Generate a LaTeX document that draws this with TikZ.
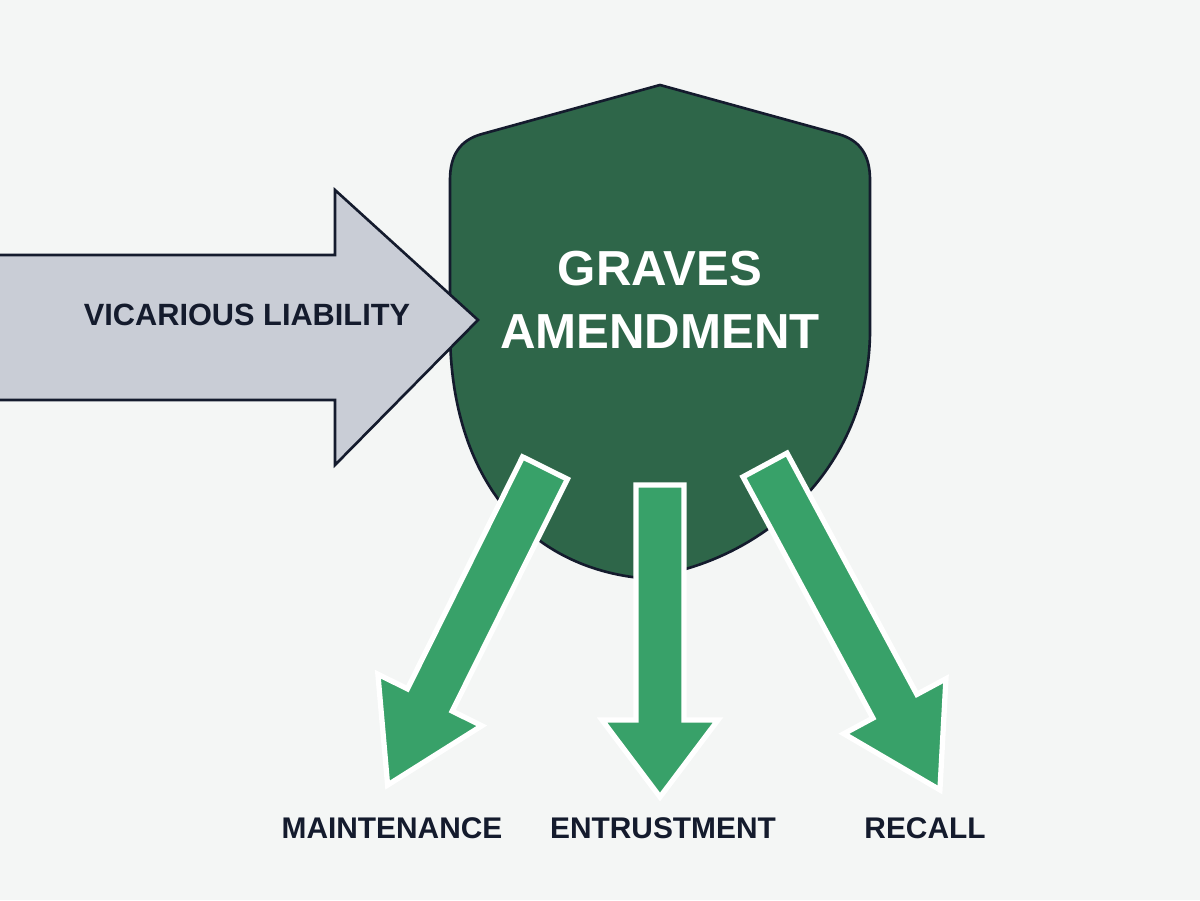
\documentclass[tikz,border=0pt]{standalone}
\usepackage{fontspec}
\setmainfont{Liberation Sans}
\usetikzlibrary{positioning,calc}
\definecolor{bgcol}{HTML}{F4F6F5}
\definecolor{navy}{HTML}{141B2D}
\definecolor{shieldgreen}{HTML}{2E6649}
\definecolor{leafgreen}{HTML}{38A169}
\definecolor{arrowgrey}{HTML}{C9CDD6}
\tikzset{
  lbl/.style={font=\bfseries\fontsize{17}{20}\selectfont, text=navy},
  garrow/.style={fill=leafgreen, draw=white, line width=3pt, line join=miter},
}
% start, angle, length, shaft half width, head half width, head length
\newcommand{\gArrow}[6]{%
  \begin{scope}[shift={#1}, rotate=#2]
    \draw[garrow] (0,#4) -- ({#3-#6},#4) -- ({#3-#6},#5) -- (#3,0) -- ({#3-#6},-#5) -- ({#3-#6},-#4) -- (0,-#4) -- cycle;
  \end{scope}}
\begin{document}
\begin{tikzpicture}[x=0.02cm, y=0.02cm]
\fill[bgcol] (0,0) rectangle (1200,900);
\useasboundingbox (0,0) rectangle (1200,900);
% shield
\draw[fill=shieldgreen, draw=navy, line width=1.5pt]
  (660,815) -- (838,766) .. controls (860,760) and (870,745) .. (870,720)
  -- (870,570) .. controls (870,430) and (760,335) .. (640,322)
  .. controls (520,335) and (450,430) .. (450,570)
  -- (450,720) .. controls (450,745) and (460,760) .. (482,766) -- cycle;
\node[font=\bfseries\fontsize{28}{36}\selectfont, text=white, align=center] (graves) at (660,600) {GRAVES\\AMENDMENT};
% incoming arrow
\draw[fill=arrowgrey, draw=navy, line width=1.5pt]
  (-5,645) -- (335,645) -- (335,710) -- (478,580) -- (335,435) -- (335,500) -- (-5,500) -- cycle;
\node[lbl, font=\bfseries\fontsize{17.5}{22}\selectfont] (vicarious) at (247,585) {VICARIOUS LIABILITY};
% outgoing arrows
\gArrow{(545,432)}{243.6}{354}{25}{58}{95}
\gArrow{(660,415)}{270}{312}{24}{58}{77}
\gArrow{(765,435)}{-61.7}{369}{25}{58}{95}
% labels
\node[lbl] (maint) at (392,72) {MAINTENANCE};
\node[lbl] (entrust) at (663,72) {ENTRUSTMENT};
\node[lbl] (recall) at (925,72) {RECALL};
\end{tikzpicture}
\end{document}
